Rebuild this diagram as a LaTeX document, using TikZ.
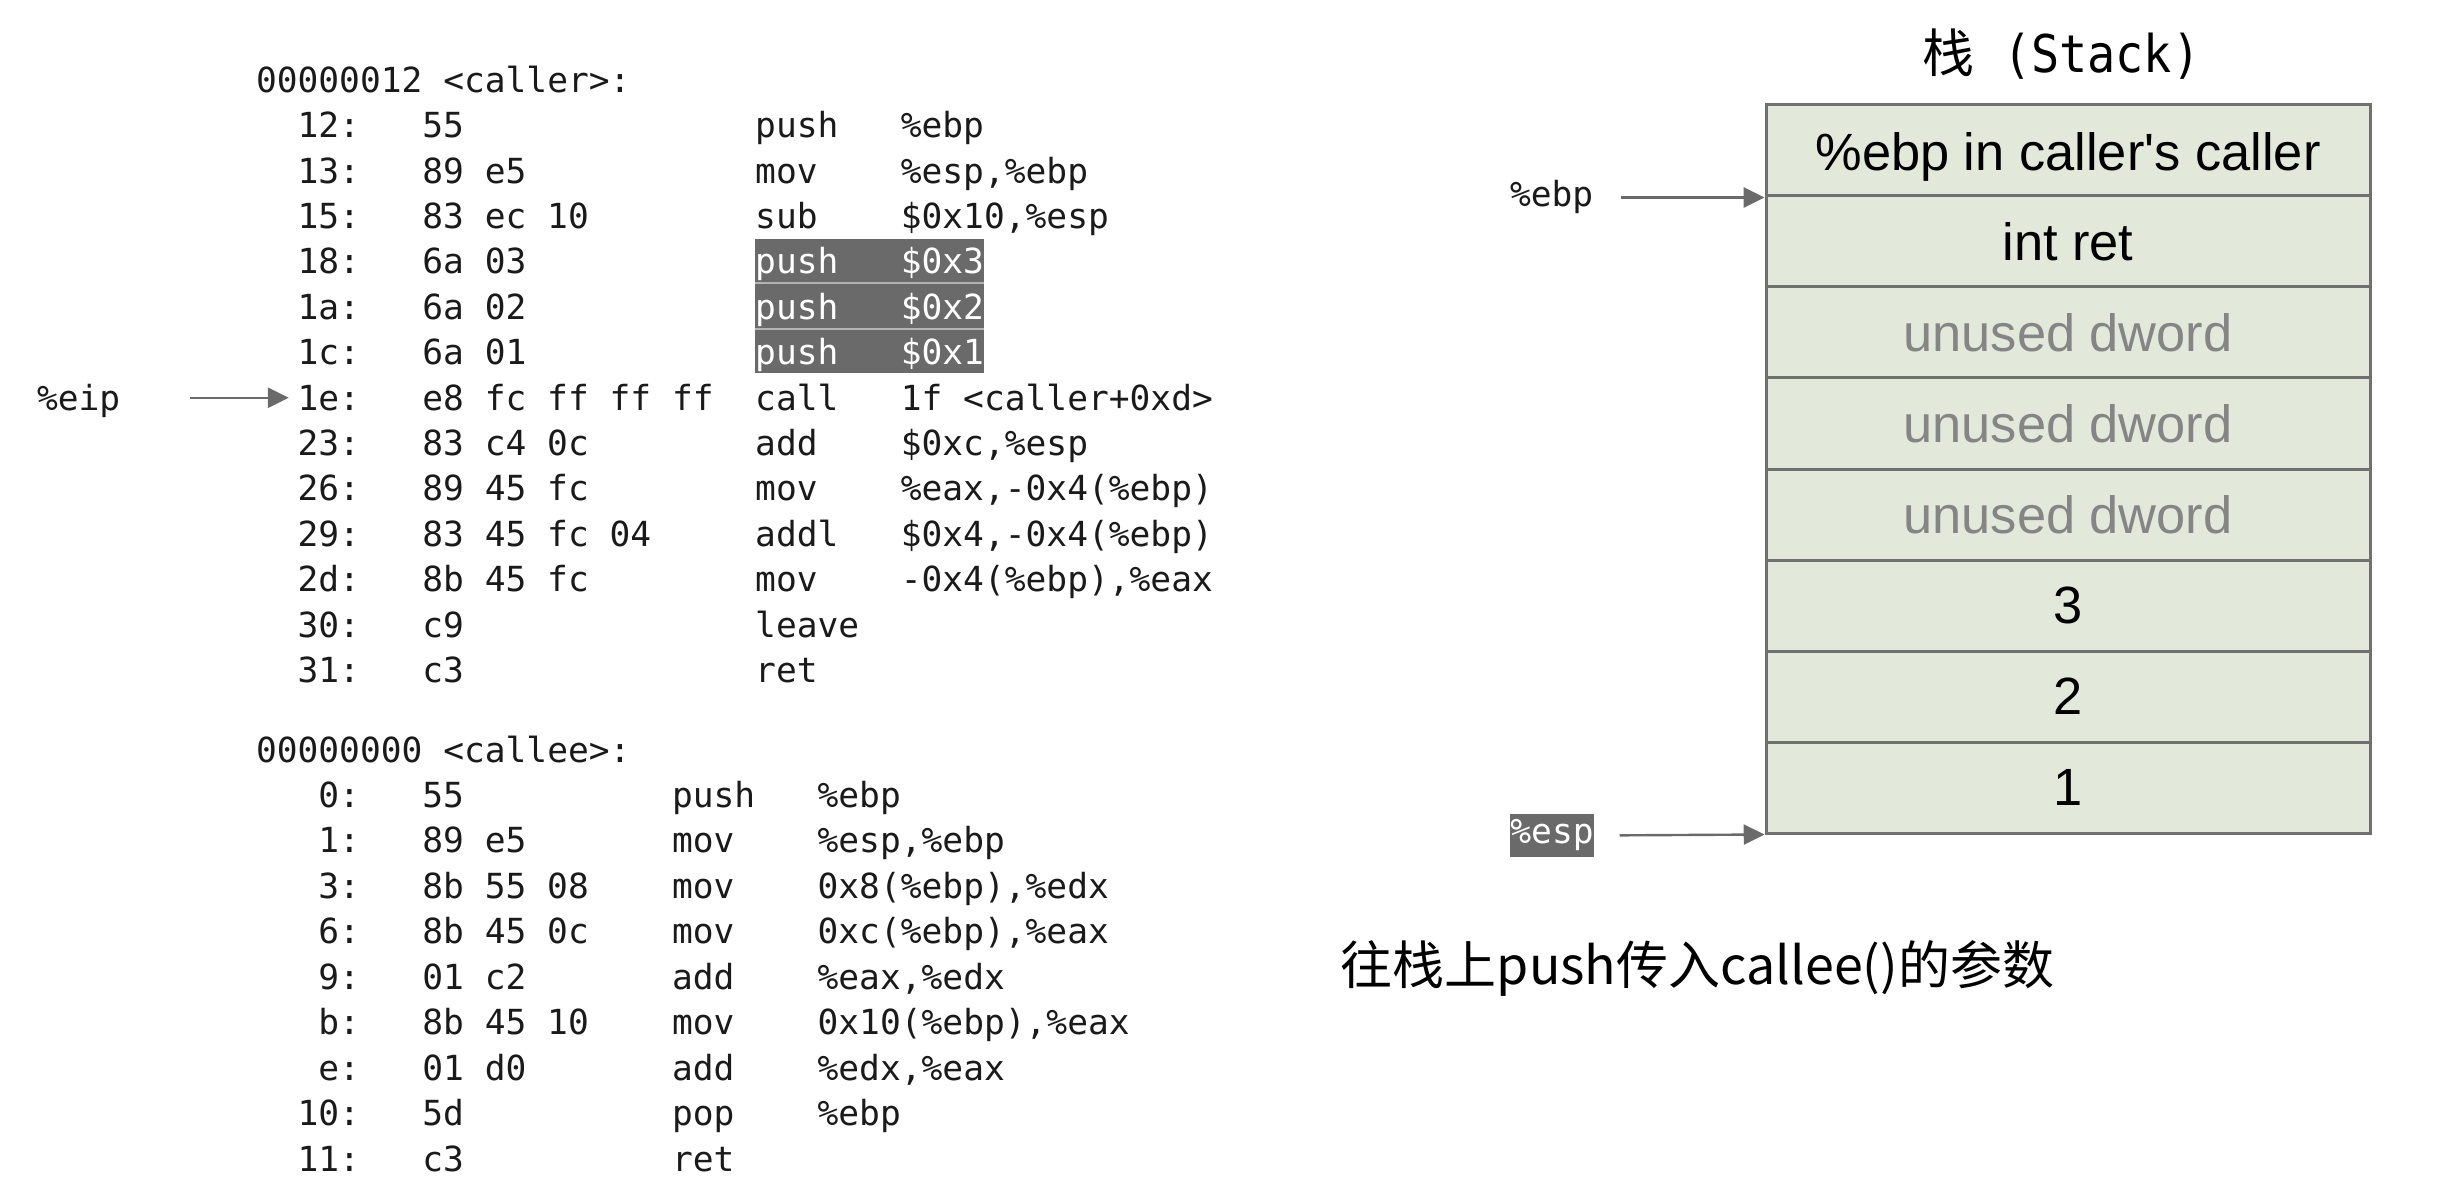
\documentclass[tikz,border=0pt]{standalone}
\usepackage{fontspec}
\setmainfont{Liberation Sans}
\newfontfamily\codefont{DejaVu Sans Mono}
\newfontfamily\titlefont[FakeStretch=0.9]{DejaVu Sans Mono}
\newfontfamily\cjk{Noto Sans CJK SC}
\usetikzlibrary{arrows.meta}
\definecolor{codeink}{HTML}{1A1A1A}
\definecolor{hldark}{HTML}{6A6A6A}
\definecolor{hlsep}{HTML}{B4B4B4}
\definecolor{stackfill}{HTML}{E2E8DA}
\definecolor{stackline}{HTML}{707070}
\definecolor{arrowgray}{HTML}{6A6A6A}
\definecolor{unusedgray}{HTML}{858585}
\tikzset{
  code/.style={inner sep=0pt, outer sep=0pt, text=codeink, font=\codefont\fontsize{8.64pt}{10pt}\selectfont},
  hltext/.style={text=white},
  stackrow/.style={draw=stackline, line width=0.75pt, fill=stackfill, minimum width=151pt, minimum height=22.75pt, inner sep=0pt, font=\fontsize{13.1pt}{15pt}\selectfont},
  unused/.style={text=unusedgray},
  ptr/.style={draw=arrowgray, line width=0.6pt, -{Triangle[length=5.2pt,width=5pt]}},
}
\newcommand\cl[8][]{%
  \node[code,anchor=base east] (#2a) at (360,#3+12.8) {#4};
  \node[code,anchor=base west] (#2b) at (422.4,#3+12.8) {#5};
  \node[code,anchor=base west,#1] (#2c) at (#8,#3+12.8) {#6};
  \node[code,anchor=base west,#1] (#2d) at (#8+145.6,#3+12.8) {#7};
}
\newcommand\clr[6]{%
  \node[code,anchor=base east] (#1a) at (360,#2+12.8) {#3};
  \node[code,anchor=base west] (#1b) at (422.4,#2+12.8) {#4};
  \node[code,anchor=base west] (#1c) at (#6,#2+12.8) {#5};
}
\begin{document}
\begin{tikzpicture}[x=0.25pt,y=-0.25pt]
\useasboundingbox (0,0) rectangle (2448,1186);
\fill[white] (0,0) rectangle (2448,1186);

% highlight backgrounds
\fill[hlsep] (755,239) rectangle (984,373);
\fill[hldark] (755,239) rectangle (984,282);
\fill[hldark] (755,284) rectangle (984,328);
\fill[hldark] (755,330) rectangle (984,373);

% caller
\node[code,anchor=base west] (hcaller) at (256,92.4) {00000012 <caller>:};
\cl{r0}{124.9}{12:}{55}{push}{\%ebp}{755.2}
\cl{r1}{170.3}{13:}{89 e5}{mov}{\%esp,\%ebp}{755.2}
\cl{r2}{215.7}{15:}{83 ec 10}{sub}{\$0x10,\%esp}{755.2}
\cl[hltext]{r3}{261.1}{18:}{6a 03}{push}{\$0x3}{755.2}
\cl[hltext]{r4}{306.5}{1a:}{6a 02}{push}{\$0x2}{755.2}
\cl[hltext]{r5}{351.9}{1c:}{6a 01}{push}{\$0x1}{755.2}
\cl{r6}{397.3}{1e:}{e8 fc ff ff ff}{call}{1f <caller+0xd>}{755.2}
\cl{r7}{442.7}{23:}{83 c4 0c}{add}{\$0xc,\%esp}{755.2}
\cl{r8}{488.1}{26:}{89 45 fc}{mov}{\%eax,-0x4(\%ebp)}{755.2}
\cl{r9}{533.5}{29:}{83 45 fc 04}{addl}{\$0x4,-0x4(\%ebp)}{755.2}
\cl{r10}{578.9}{2d:}{8b 45 fc}{mov}{-0x4(\%ebp),\%eax}{755.2}
\clr{r11}{624.3}{30:}{c9}{leave}{755.2}
\clr{r12}{669.7}{31:}{c3}{ret}{755.2}

% callee
\node[code,anchor=base west] (hcallee) at (256,762.2) {00000000 <callee>:};
\cl{e0}{794.6}{0:}{55}{push}{\%ebp}{672}
\cl{e1}{840.1}{1:}{89 e5}{mov}{\%esp,\%ebp}{672}
\cl{e2}{885.5}{3:}{8b 55 08}{mov}{0x8(\%ebp),\%edx}{672}
\cl{e3}{931.0}{6:}{8b 45 0c}{mov}{0xc(\%ebp),\%eax}{672}
\cl{e4}{976.5}{9:}{01 c2}{add}{\%eax,\%edx}{672}
\cl{e5}{1022.0}{b:}{8b 45 10}{mov}{0x10(\%ebp),\%eax}{672}
\cl{e6}{1067.4}{e:}{01 d0}{add}{\%edx,\%eax}{672}
\cl{e7}{1112.9}{10:}{5d}{pop}{\%ebp}{672}
\clr{e8}{1158.4}{11:}{c3}{ret}{672}

% eip pointer
\node[code,anchor=base west] (eip) at (37,410.1) {\%eip};
\draw[ptr, shorten <=17.5pt, shorten >=2.2pt] (eip.east |- r6a.west) -- (r6a.west);

% stack title
\node[anchor=base west, inner sep=0pt] (title) at (1922,73)
  {{\cjk\fontsize{13pt}{15pt}\selectfont 栈}{\titlefont\fontsize{13pt}{15pt}\selectfont\ (Stack)}};

% stack rows
\node[stackrow] (s1) at (2068,150.5) {\raisebox{-1.5pt}[\height][\depth]{\%ebp in caller\textquotesingle s caller}};
\node[stackrow] (s2) at (2068,241.5) {int ret};
\node[stackrow,unused] (s3) at (2068,332.5) {unused dword};
\node[stackrow,unused] (s4) at (2068,423.5) {unused dword};
\node[stackrow,unused] (s5) at (2068,514.5) {unused dword};
\node[stackrow] (s6) at (2068,605.5) {3};
\node[stackrow] (s7) at (2068,696.5) {2};
\node[stackrow] (s8) at (2068,787.5) {1};

% ebp / esp pointers
\node[code,anchor=base west] (ebp) at (1510,207) {\%ebp};
\draw[ptr, shorten <=7pt] (ebp.east |- s1.south west) -- (s1.south west);
\node[code,fill=hldark,text=white,minimum height=10.75pt,anchor=center] (esp) at (1552,835.5) {\%esp};
\draw[ptr, shorten <=6.5pt] (esp.east) -- (s8.south west);

% caption
\node[anchor=west, inner sep=0pt, font=\cjk\fontsize{13pt}{15pt}\selectfont] (caption) at (1340,968) {往栈上push传入callee()的参数};
\end{tikzpicture}
\end{document}
